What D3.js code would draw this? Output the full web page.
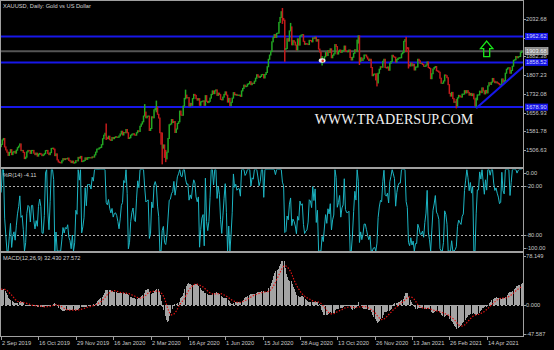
<!DOCTYPE html>
<html>
<head>
<meta charset="utf-8">
<script src="https://cdn.jsdelivr.net/npm/d3@7"></script>
<style>
  html, body { margin: 0; padding: 0; background: #000; overflow: hidden; }
  svg { display: block; }
  text { font-family: "Liberation Sans", Arial, sans-serif; }
</style>
</head>
<body>
<div id="chart"></div>
<script>
// XAUUSD daily closes
// Jul + Aug 2019 only feed the indicators, they are not drawn
const warmup2019 = [
    1384, 1418, 1419, 1413, 1400, 1396, 1398, 1419, 1403, 1416, 1413, 1406, 1426, 1445, 1426, 1424, 1418, 1426, 1414, 1419, 1426, 1431, 1413,
    1444, 1440, 1464, 1474, 1501, 1502, 1496, 1511, 1501, 1516, 1522, 1513, 1496, 1506, 1502, 1498, 1526, 1526, 1542, 1538, 1527, 1520
];
const closes2019 = [
    // Sep
    1529, 1547, 1553, 1519, 1507, 1498, 1485, 1497, 1508, 1488, 1498, 1501, 1494, 1506, 1516, 1522, 1531, 1504, 1505, 1497, 1472,
    // Oct
    1478, 1499, 1505, 1504, 1493, 1505, 1505, 1494, 1488, 1494, 1482, 1490, 1493, 1490, 1484, 1487, 1492, 1504, 1505, 1493, 1488, 1496, 1513,
    // Nov
    1514, 1510, 1484, 1491, 1467, 1459, 1456, 1455, 1463, 1472, 1468, 1472, 1471, 1474, 1465, 1462, 1456, 1462, 1454, 1456, 1464,
    // Dec
    1463, 1477, 1474, 1481, 1460, 1462, 1465, 1475, 1469, 1476, 1476, 1476, 1475, 1479, 1478, 1487, 1498, 1510, 1511, 1515, 1517
];
const closes2020 = [
    // Jan
    1528, 1552, 1566, 1574, 1556, 1552, 1562, 1548, 1545, 1557, 1552, 1557, 1560, 1558, 1558, 1563, 1571, 1582, 1567, 1577, 1576, 1589,
    // Feb
    1576, 1553, 1556, 1566, 1570, 1572, 1567, 1566, 1576, 1584, 1581, 1602, 1611, 1620, 1643, 1659, 1636, 1642, 1643, 1585,
    // Mar
    1593, 1640, 1636, 1668, 1673, 1679, 1650, 1635, 1576, 1530, 1514, 1527, 1477, 1471, 1498, 1553, 1608, 1611, 1629, 1617, 1621, 1577,
    // Apr
    1591, 1613, 1620, 1663, 1647, 1646, 1683, 1714, 1727, 1716, 1717, 1683, 1694, 1686, 1713, 1730, 1726, 1713, 1707, 1713, 1686,
    // May
    1700, 1702, 1704, 1686, 1725, 1702, 1697, 1702, 1715, 1730, 1744, 1733, 1744, 1748, 1726, 1735, 1729, 1710, 1708, 1719, 1730,
    // Jun
    1740, 1727, 1699, 1714, 1685, 1698, 1715, 1737, 1728, 1730, 1726, 1727, 1727, 1722, 1744, 1754, 1767, 1761, 1763, 1771, 1773, 1781,
    // Jul
    1769, 1775, 1774, 1783, 1795, 1809, 1803, 1798, 1802, 1809, 1810, 1796, 1810, 1818, 1841, 1871, 1888, 1902, 1941, 1958, 1970, 1959, 1975,
    // Aug
    1976, 2019, 2039, 2062, 2035, 2028, 1911, 1914, 1954, 1944, 1985, 2001, 1929, 1946, 1940, 1928, 1908, 1953, 1928, 1964, 1968,
    // Sep
    1970, 1943, 1931, 1934, 1932, 1930, 1947, 1946, 1941, 1957, 1954, 1960, 1944, 1950, 1912, 1900, 1863, 1868, 1861, 1881, 1898, 1886,
    // Oct
    1906, 1899, 1913, 1877, 1887, 1893, 1930, 1922, 1892, 1902, 1908, 1899, 1905, 1907, 1924, 1904, 1902, 1902, 1908, 1878, 1868, 1879,
    // Nov
    1895, 1909, 1903, 1948, 1951, 1862, 1877, 1866, 1873, 1888, 1888, 1880, 1872, 1866, 1871, 1838, 1805, 1811, 1812, 1788, 1776,
    // Dec
    1815, 1831, 1841, 1839, 1863, 1871, 1838, 1836, 1840, 1827, 1855, 1862, 1887, 1881, 1879, 1860, 1870, 1875, 1877, 1877, 1893, 1898
];
const closes2021 = [
    // Jan
    1943, 1950, 1918, 1913, 1849, 1844, 1856, 1845, 1851, 1828, 1840, 1840, 1871, 1865, 1855, 1855, 1850, 1843, 1843, 1848,
    // Feb
    1860, 1838, 1834, 1793, 1813, 1832, 1838, 1842, 1825, 1823, 1819, 1795, 1775, 1775, 1784, 1808, 1805, 1797, 1769, 1734,
    // Mar
    1723, 1738, 1713, 1698, 1700, 1683, 1716, 1726, 1722, 1719, 1731, 1731, 1745, 1736, 1745, 1738, 1727, 1734, 1725, 1732, 1712, 1685, 1708,
    // Apr
    1728, 1728, 1743, 1737, 1756, 1744, 1732, 1746, 1736, 1764, 1777, 1770, 1779, 1794, 1783, 1777, 1780, 1776, 1773, 1768, 1769,
    // May
    1792, 1779, 1785, 1815, 1831, 1836, 1837, 1815, 1826, 1843, 1867, 1869, 1882, 1877, 1881, 1882, 1898, 1903.68
];

// days without a bar
const holidays = ["2019-12-25", "2020-01-01", "2020-04-10", "2020-12-25", "2021-01-01", "2021-04-02"];

// long shadows that stick out of the bodies: [date, high, low]
const wicks = [
    ["2020-01-08", 1611, 1549], ["2020-02-24", 1689, 1643], ["2020-03-09", 1703, 1660],
    ["2020-03-16", 1575, 1451], ["2020-03-19", 1505, 1460], ["2020-04-14", 1747, 1712],
    ["2020-08-07", 2075, 2015], ["2020-08-11", 2028, 1863], ["2020-08-18", 2015, 1985],
    ["2020-09-24", 1882, 1848], ["2020-11-06", 1965, 1936], ["2020-11-09", 1965, 1850],
    ["2020-11-30", 1813, 1764], ["2021-01-06", 1959, 1902], ["2021-01-08", 1917, 1836],
    ["2021-03-08", 1709, 1676], ["2021-03-31", 1715, 1677]
];

const priceTicks = [2032.68, 1957.53, 1882.38, 1807.23, 1732.08, 1656.93, 1581.78, 1506.63];
const levelLines = [1962.62, 1858.52, 1678.90];
const lastPrice = 1903.68;
const trendLine = [["2021-03-31", 1674], ["2021-05-26", 1836]];
const arrowUp = ["2021-04-14", 1944];
const marker = ["2020-09-24", 1866];
const dateTicks = ["2 Sep 2019", "16 Oct 2019", "29 Nov 2019", "16 Jan 2020", "2 Mar 2020", "16 Apr 2020",
    "1 Jun 2020", "15 Jul 2020", "28 Aug 2020", "13 Oct 2020", "26 Nov 2020", "13 Jan 2021", "26 Feb 2021", "14 Apr 2021"];
const wprLevels = [-20, -80];
const wprTicks = [0, -20, -80, -100];
const macdTicks = [78.149, 0, -47.587];
const titles = {
    main: "XAUUSD, Daily:  Gold vs US Dollar",
    wpr: "%R(14) -4.11",
    macd: "MACD(12,26,9) 32.430 27.572"
};


// layout
// ------------------------------------------------------

const W = 554, H = 350,
    plotLeft = 1, plotRight = 523,
    mainTop = 1, mainBottom = 167,
    wprTop = 169.5, wprBottom = 251,
    macdTop = 253.5, macdBottom = 336,
    fontSize = 5.7,
    upColor = "#22a822", downColor = "#c41c1c",
    lineBlue = "#1717e8", axisGray = "#a0a0a0", textGray = "#c8c8c8";


// bars
// ------------------------------------------------------

const fmtKey = d3.timeFormat("%Y-%m-%d");
const fmtLabel = d3.timeFormat("%-d %b %Y");

let days = d3.timeDay.range(new Date(2019, 6, 1), new Date(2021, 4, 27))
    .filter(d => d.getDay() !== 0 && d.getDay() !== 6 && !holidays.includes(fmtKey(d)));

let allCloses = warmup2019.concat(closes2019, closes2020, closes2021);
if (days.length !== allCloses.length) console.warn("bars/closes mismatch", days.length, allCloses.length);

let wickMap = new Map(wicks.map(w => [w[0], w]));

let bars = allCloses.map((c, i) => {
    let key = fmtKey(days[i]);
    let o = i > 0 ? allCloses[i - 1] : c;
    let w = wickMap.get(key);
    return {
        date: days[i], key: key, label: fmtLabel(days[i]),
        open: o, close: c,
        high: Math.max(o, c, w ? w[1] : -Infinity),
        low: Math.min(o, c, w ? w[2] : Infinity)
    };
});

// MACD (12,26,9): EMA difference, signal is an SMA of it
let ema = (vals, n) => {
    let k = 2 / (n + 1), out = [], prev = vals[0];
    vals.forEach((v, i) => { prev = i === 0 ? v : v * k + prev * (1 - k); out.push(prev); });
    return out;
};
let e12 = ema(allCloses, 12), e26 = ema(allCloses, 26);
bars.forEach((b, i) => {
    b.macd = e12[i] - e26[i];
    let from = Math.max(0, i - 8);
    b.signal = d3.mean(bars.slice(from, i + 1), d => d.macd);
    let win = bars.slice(Math.max(0, i - 13), i + 1);
    let hh = d3.max(win, d => d.high), ll = d3.min(win, d => d.low);
    b.wpr = hh === ll ? -50 : -100 * (hh - b.close) / (hh - ll);
});

let firstIdx = bars.findIndex(b => b.key === "2019-09-02");
let data = bars.slice(firstIdx);
data.forEach((d, i) => d.i = i);
let indexOf = key => data.findIndex(d => d.key === key);


// svg
// ------------------------------------------------------

let svg = d3.select("#chart").append("svg")
    .attr("width", W)
    .attr("height", H)
    .style("background", "#000");

let defs = svg.append("defs");
[["clipMain", mainTop, mainBottom], ["clipWpr", wprTop, wprBottom], ["clipMacd", macdTop, macdBottom]]
    .forEach(c => defs.append("clipPath").attr("id", c[0])
        .append("rect").attr("x", plotLeft).attr("y", c[1]).attr("width", plotRight - plotLeft).attr("height", c[2] - c[1]));


// scales
// ------------------------------------------------------

let xScale = d3.scaleLinear()
    .domain([0, data.length - 1])
    .range([1.15, 521.7]);

let yScale = d3.scaleLinear()
    .domain([1438.4, 2105])
    .range([mainBottom, mainTop]);

let wprScale = d3.scaleLinear()
    .domain([-100, 0])
    .range([wprBottom, wprTop]);

let macdScale = d3.scaleLinear()
    .domain([-47.587, 78.149])
    .range([macdBottom, macdTop]);

let px = i => Math.round(xScale(i));


// main pane
// ------------------------------------------------------

let main = svg.append("g").attr("clip-path", "url(#clipMain)");

// horizontal levels and bid line
main.selectAll(".level")
    .data(levelLines)
    .enter()
    .append("line")
        .attr("class", "level")
        .attr("x1", plotLeft).attr("x2", plotRight)
        .attr("y1", d => yScale(d)).attr("y2", d => yScale(d))
        .attr("stroke", lineBlue)
        .attr("stroke-width", 2);

main.append("line")
    .attr("x1", plotLeft).attr("x2", plotRight)
    .attr("y1", yScale(lastPrice)).attr("y2", yScale(lastPrice))
    .attr("stroke", "#555")
    .attr("stroke-width", 2);

main.selectAll(".bar")
    .data(data)
    .enter()
    .append("rect")
        .attr("class", "bar")
        .attr("x", d => xScale(d.i) - 0.75)
        .attr("width", 1.5)
        .attr("y", d => yScale(d.high) - 0.5)
        .attr("height", d => Math.max(1.2, yScale(d.low) - yScale(d.high) + 1))
        .attr("fill", d => d.close >= d.open ? upColor : downColor);

// trend line, drawn as a ray to the right edge
let t0 = [xScale(indexOf(trendLine[0][0])), yScale(trendLine[0][1])],
    t1 = [xScale(indexOf(trendLine[1][0])), yScale(trendLine[1][1])];
let slope = (t1[1] - t0[1]) / (t1[0] - t0[0]);
main.append("line")
    .attr("x1", t0[0]).attr("y1", t0[1])
    .attr("x2", plotRight).attr("y2", t0[1] + slope * (plotRight - t0[0]))
    .attr("stroke", lineBlue)
    .attr("stroke-width", 2);

// up arrow object
let ax = xScale(indexOf(arrowUp[0])), ay = yScale(arrowUp[1]);
main.append("path")
    .attr("d", `M${ax},${ay} L${ax + 6.2},${ay + 7.5} L${ax + 3},${ay + 7.5} L${ax + 3},${ay + 15.5}
        L${ax - 3},${ay + 15.5} L${ax - 3},${ay + 7.5} L${ax - 6.2},${ay + 7.5} Z`)
    .attr("fill", "none")
    .attr("stroke", "#19e619")
    .attr("stroke-width", 1.3);

// small alert icon
let mx = xScale(indexOf(marker[0])), my = yScale(marker[1]);
main.append("ellipse")
    .attr("cx", mx).attr("cy", my).attr("rx", 3.4).attr("ry", 2.2)
    .attr("fill", "#f0f0f0");
main.append("circle")
    .attr("cx", mx + 0.6).attr("cy", my + 0.2).attr("r", 1.3)
    .attr("fill", "#e03020");

// watermark
svg.append("text")
    .attr("x", 314.7).attr("y", 124)
    .attr("textLength", 158.6)
    .attr("lengthAdjust", "spacingAndGlyphs")
    .style("font-family", "'Liberation Serif', 'Times New Roman', serif")
    .style("font-size", "14.5px")
    .attr("fill", "#f2f2f2")
    .text("WWW.TRADERSUP.COM");


// %R pane
// ------------------------------------------------------

let wpr = svg.append("g").attr("clip-path", "url(#clipWpr)");

wpr.selectAll(".wprLevel")
    .data(wprLevels)
    .enter()
    .append("line")
        .attr("class", "wprLevel")
        .attr("x1", plotLeft).attr("x2", plotRight)
        .attr("y1", d => Math.round(wprScale(d)) + 0.5).attr("y2", d => Math.round(wprScale(d)) + 0.5)
        .attr("stroke", "#b0b0b0")
        .attr("stroke-dasharray", "2,2");

wpr.append("path")
    .datum(data)
    .attr("d", d3.line().x(d => xScale(d.i)).y(d => wprScale(d.wpr)))
    .attr("fill", "none")
    .attr("stroke", "#1cb4c2")
    .attr("stroke-width", 1);


// MACD pane
// ------------------------------------------------------

let macd = svg.append("g").attr("clip-path", "url(#clipMacd)");

macd.append("line")
    .attr("x1", plotLeft).attr("x2", plotRight)
    .attr("y1", Math.round(macdScale(0)) + 0.5).attr("y2", Math.round(macdScale(0)) + 0.5)
    .attr("stroke", "#b0b0b0")
    .attr("stroke-dasharray", "2,2");

macd.selectAll(".hist")
    .data(data)
    .enter()
    .append("rect")
        .attr("class", "hist")
        .attr("x", d => px(d.i))
        .attr("width", 1)
        .attr("y", d => Math.min(macdScale(d.macd), macdScale(0)))
        .attr("height", d => Math.abs(macdScale(d.macd) - macdScale(0)))
        .attr("fill", "#a4a4a4")
        .attr("shape-rendering", "crispEdges");

macd.append("path")
    .datum(data)
    .attr("d", d3.line().x(d => xScale(d.i)).y(d => macdScale(d.signal)))
    .attr("fill", "none")
    .attr("stroke", "#e81414")
    .attr("stroke-width", 1.2)
    .attr("stroke-dasharray", "1.4,1.6");


// frame
// ------------------------------------------------------

let frame = svg.append("g")
    .attr("fill", axisGray)
    .attr("shape-rendering", "crispEdges");
frame.append("rect").attr("x", 0).attr("y", 0).attr("width", plotRight).attr("height", 1);
frame.append("rect").attr("x", 0).attr("y", 0).attr("width", 1).attr("height", macdBottom);
frame.append("rect").attr("x", 0).attr("y", mainBottom).attr("width", plotRight).attr("height", 2);
frame.append("rect").attr("x", 0).attr("y", wprBottom).attr("width", plotRight).attr("height", 2);
frame.append("rect").attr("x", 0).attr("y", macdBottom).attr("width", plotRight + 1).attr("height", 1);
frame.append("rect").attr("x", plotRight).attr("y", 0).attr("width", 1).attr("height", macdBottom);


// axes
// ------------------------------------------------------

let labelText = (g, x, y, txt, fill) => g.append("text")
    .attr("x", x).attr("y", y)
    .style("font-size", fontSize + "px")
    .attr("fill", fill || textGray)
    .text(txt);

let rightAxis = (scale, ticks, fmt, y0, y1) => {
    let g = svg.append("g");
    ticks.forEach(t => {
        let y = Math.round(Math.min(Math.max(scale(t), y0), y1));
        g.append("rect").attr("x", plotRight + 1).attr("y", y).attr("width", 2).attr("height", 1)
            .attr("fill", axisGray);
        labelText(g, plotRight + 3, y + 2, fmt(t));
    });
    return g;
};

rightAxis(yScale, priceTicks, d => d.toFixed(2), 0, 999);
rightAxis(wprScale, wprTicks, d => d.toFixed(2), wprTop + 3, wprBottom - 3);
rightAxis(macdScale, macdTicks, d => d.toFixed(3), macdTop + 2, macdBottom - 2);

// price labels for the levels and the bid
levelLines.forEach(p => {
    let y = yScale(p);
    svg.append("rect").attr("x", plotRight + 2).attr("y", y - 3.5).attr("width", 23).attr("height", 7)
        .attr("fill", "#1414e6");
    labelText(svg, plotRight + 3, y + 2, p.toFixed(2), "#d8d8ff");
});
{
    let y = yScale(lastPrice);
    svg.append("rect").attr("x", plotRight + 2).attr("y", y - 3.5).attr("width", 23).attr("height", 7)
        .attr("fill", "#8a8a8a").attr("stroke", "#d0d0d0").attr("stroke-width", 0.6);
    labelText(svg, plotRight + 3, y + 2, lastPrice.toFixed(2), "#f4f4f4");
}

// dates
let dateAxis = svg.append("g");
dateTicks.forEach(lbl => {
    let i = data.findIndex(d => d.label === lbl);
    if (i < 0) return;
    let x = px(i);
    dateAxis.append("rect").attr("x", x).attr("y", macdBottom + 1).attr("width", 1).attr("height", 3)
        .attr("fill", axisGray);
    labelText(dateAxis, Math.max(1, x + 1), 345, lbl);
});

// pane titles
labelText(svg, 3, 8, titles.main, "#d4d4d4");
labelText(svg, 3, 177, titles.wpr, "#d4d4d4");
labelText(svg, 3, 260, titles.macd, "#d4d4d4");
</script>
</body>
</html>
